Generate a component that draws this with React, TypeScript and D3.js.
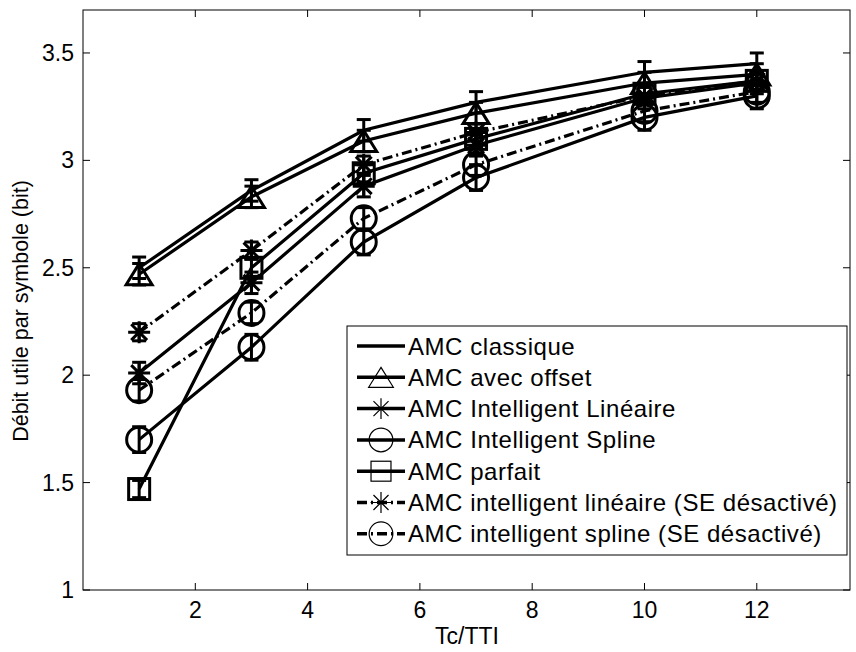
import React from "react";
import * as d3 from "d3";

const xValues = [1, 3, 5, 7, 10, 12];
const seriesNames = [
  "AMC classique",
  "AMC avec offset",
  "AMC Intelligent Linéaire",
  "AMC Intelligent Spline",
  "AMC parfait",
  "AMC intelligent linéaire (SE désactivé)",
  "AMC intelligent spline (SE désactivé)",
];
const classique = [2.5, 2.86, 3.14, 3.27, 3.41, 3.45];
const avecOffset = [2.47, 2.83, 3.09, 3.22, 3.36, 3.4];
const intelLineaire = [2.01, 2.43, 2.88, 3.07, 3.29, 3.36];
const intelSpline = [1.7, 2.13, 2.62, 2.92, 3.2, 3.3];
const parfait = [1.47, 2.5, 2.94, 3.1, 3.31, 3.37];
const linSE = [2.2, 2.58, 2.98, 3.13, 3.3, 3.37];
const splineSE = [1.93, 2.29, 2.73, 2.98, 3.23, 3.32];
const errorHalf = [0.05, 0.05, 0.05, 0.06, 0.04, 0.04, 0.05];
const markers = ["none", "triangle", "star", "circle", "square", "star", "circle"];
const dashed = [false, false, false, false, false, true, true];
const seriesValues = [classique, avecOffset, intelLineaire, intelSpline, parfait, linSE, splineSE];

const xTicks = [2, 4, 6, 8, 10, 12];
const yTicks = [1, 1.5, 2, 2.5, 3, 3.5];

const W = 856, H = 652;
const L = 83, R = 850, T = 10, B = 590;
const x = d3.scaleLinear().domain([0, 13.66]).range([L, R]);
const y = d3.scaleLinear().domain([1, 3.7]).range([B, T]);
const FONT = "Liberation Sans, Arial, sans-serif";
const DASH = "10,4,2,4";

function Marker({ type, cx, cy, sw, k = 1 }: { type: string; cx: number; cy: number; sw: number; k?: number }) {
  const common = { fill: "none", stroke: "#000", strokeWidth: sw };
  if (type === "triangle") {
    const h = 21 * k, w = 26 * k;
    const p = `M${cx},${cy - h / 2} L${cx + w / 2},${cy + h / 2} L${cx - w / 2},${cy + h / 2} Z`;
    return <path d={p} {...common} strokeLinejoin="miter" />;
  }
  if (type === "circle") return <circle cx={cx} cy={cy} r={12.5 * k} {...common} />;
  if (type === "square") return <rect x={cx - 10.5 * k} y={cy - 10.5 * k} width={21 * k} height={21 * k} {...common} />;
  if (type === "star") {
    const r = 11 * k, d = r * 0.72;
    const p = `M${cx},${cy - r}V${cy + r}M${cx - r},${cy}H${cx + r}M${cx - d},${cy - d}L${cx + d},${cy + d}M${cx - d},${cy + d}L${cx + d},${cy - d}`;
    return <path d={p} {...common} />;
  }
  return null;
}

export default function App() {
  const line = d3.line<number>().x((_, i) => x(xValues[i])).y((v) => y(v));
  const legendTop = 346, legendStep = 31.3;
  return (
    <svg width={W} height={H} style={{ display: "block", position: "absolute", left: 0, top: 0, background: "#fff" }}>
      <rect x={0} y={0} width={W} height={H} fill="#fff" />
      {xTicks.map((t) => (
        <g key={"x" + t}>
          <line x1={x(t)} x2={x(t)} y1={B} y2={B - 7} stroke="#000" />
          <line x1={x(t)} x2={x(t)} y1={T} y2={T + 7} stroke="#000" />
          <text x={x(t)} y={B + 28} textAnchor="middle" fontFamily={FONT} fontSize={23}>{t}</text>
        </g>
      ))}
      {yTicks.map((t) => (
        <g key={"y" + t}>
          <line x1={L} x2={L + 7} y1={y(t)} y2={y(t)} stroke="#000" />
          <line x1={R} x2={R - 7} y1={y(t)} y2={y(t)} stroke="#000" />
          <text x={L - 9} y={y(t) + 8} textAnchor="end" fontFamily={FONT} fontSize={23}>{t}</text>
        </g>
      ))}
      <rect x={L} y={T} width={R - L} height={B - T} fill="none" stroke="#000" strokeWidth={1} />
      <text x={467} y={644} textAnchor="middle" fontFamily={FONT} fontSize={23}>Tc/TTI</text>
      <text transform={`translate(28,311) rotate(-90)`} textAnchor="middle" fontFamily={FONT} fontSize={21.5}>Débit utile par symbole (bit)</text>

      {seriesValues.map((vals, si) => (
        <g key={"s" + si}>
          <path d={line(vals) || ""} fill="none" stroke="#000" strokeWidth={3.2} strokeDasharray={dashed[si] ? DASH : undefined} />
          {vals.map((v, i) => {
            const cx = x(xValues[i]);
            const e = errorHalf[si];
            return (
              <g key={i}>
                <line x1={cx} x2={cx} y1={y(v - e)} y2={y(v + e)} stroke="#000" strokeWidth={3} />
                <line x1={cx - 7} x2={cx + 7} y1={y(v - e)} y2={y(v - e)} stroke="#000" strokeWidth={3} />
                <line x1={cx - 7} x2={cx + 7} y1={y(v + e)} y2={y(v + e)} stroke="#000" strokeWidth={3} />
                <Marker type={markers[si]} cx={cx} cy={y(v)} sw={3} />
              </g>
            );
          })}
        </g>
      ))}

      <rect x={347} y={326} width={500} height={229} fill="#fff" stroke="#000" strokeWidth={1} />
      {seriesNames.map((name, i) => {
        const ly = legendTop + i * legendStep;
        return (
          <g key={"l" + i}>
            <line x1={357} x2={405} y1={ly} y2={ly} stroke="#000" strokeWidth={3.5} strokeDasharray={dashed[i] ? DASH : undefined} />
            <Marker type={markers[i]} cx={381} cy={ly} sw={1.2} k={0.95} />
            <text x={408} y={ly + 8.5} fontFamily={FONT} fontSize={24} letterSpacing={0.55}>{name}</text>
          </g>
        );
      })}
    </svg>
  );
}
